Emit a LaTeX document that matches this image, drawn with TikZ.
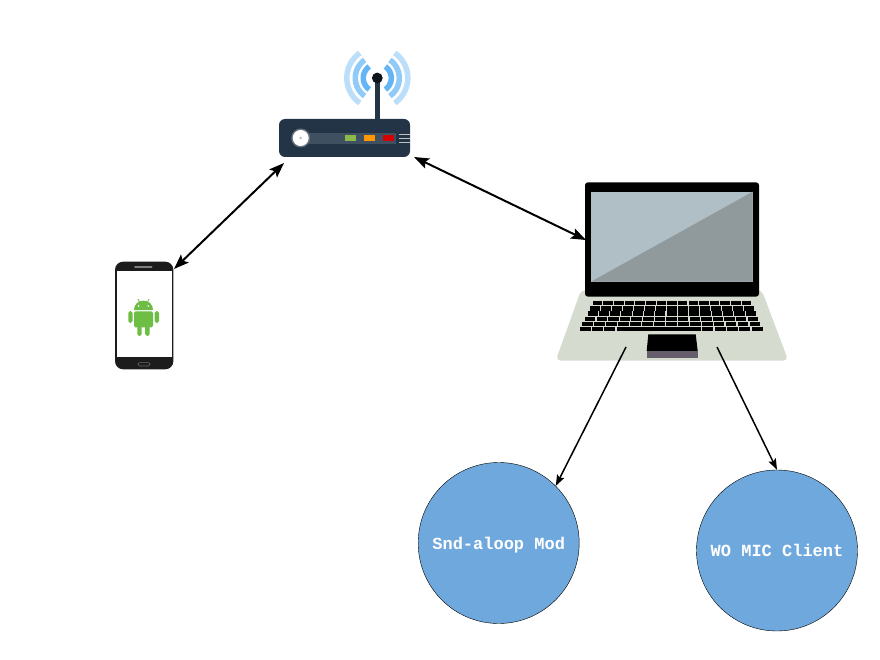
\documentclass[tikz,border=0pt]{standalone}
\usepackage{fontspec}
\usetikzlibrary{arrows.meta}
\setmonofont{Liberation Mono}
\definecolor{routerbody}{HTML}{243447}
\definecolor{routerslot}{HTML}{3F5160}
\definecolor{wifiin}{HTML}{64B5F6}
\definecolor{wifimid}{HTML}{90CAF9}
\definecolor{wifiout}{HTML}{BBDEFB}
\definecolor{droid}{HTML}{6EBD45}
\definecolor{ledgreen}{HTML}{8BB94A}
\definecolor{ledorange}{HTML}{FF9800}
\definecolor{ledred}{HTML}{D50000}
\definecolor{phonebody}{HTML}{1C1C1C}
\definecolor{screenlight}{HTML}{B0BEC5}
\definecolor{screendark}{HTML}{90999B}
\definecolor{deck}{HTML}{D5DCCF}
\definecolor{padstrip}{HTML}{665F6B}
\definecolor{modblue}{HTML}{6FA8DC}
\tikzset{
	module/.style={circle,draw=black,fill=modblue,minimum size=161pt,inner sep=0pt,text=white,
		text height=12pt,text depth=0pt,font=\fontsize{17}{20}\ttfamily\bfseries},
	link/.style={line width=2pt,{Stealth[length=15pt,width=11pt,inset=3pt]}-{Stealth[length=15pt,width=11pt,inset=3pt]}},
	feed/.style={line width=1.5pt,-{Stealth[length=11pt,width=8pt,inset=2pt]}},
}
\begin{document}
\begin{tikzpicture}[x=1pt,y=-1pt,line join=round]
	\useasboundingbox (0,0) rectangle (880,660);
	\path	(174,269) coordinate (P)
	(284,163) coordinate (R1)
	(414,157) coordinate (R2)
	(586,240) coordinate (L1)
	(626,347) coordinate (L2)
	(717,347) coordinate (L3)
	(377.3,78) coordinate (A);
	% router
	\foreach \r/\c in {30.5/wifiout,22/wifimid,14/wifiin} {
		\draw[\c,line width=5.5pt] plot[domain=-55:55,samples=20] ({377.3+\r*cos(\x)},{78+\r*sin(\x)});
		\draw[\c,line width=5.5pt] plot[domain=125:235,samples=20] ({377.3+\r*cos(\x)},{78+\r*sin(\x)});
	}
	\draw[routerbody,line width=4.5pt] (A)--(377.3,120);
	\fill[black!60!routerbody] (A) circle (5.4);
	\node[draw=none,fill=routerbody,rounded corners=6pt,minimum width=131pt,minimum height=38pt,inner sep=0pt] (router) at (344.5,138) {};
	\fill[routerslot] (308,133) rectangle (396,144);
	\fill[routerbody!70!white] (300.7,138) circle (9.5);
	\fill[white] (300.7,138) circle (8);
	\fill[black!25] (300.7,138) circle (1.5);
	\foreach \x/\c in {344.7/ledgreen,363.7/ledorange,382.7/ledred} \fill[\c] (\x,135.3) rectangle +(11,5.7);
	\foreach \y in {134.3,138.3,142.7} \draw[black!25,line width=1.5pt] (399,\y)--(410,\y);
	% phone
	\node[fill=phonebody,rounded corners=8pt,minimum width=58.3pt,minimum height=107.6pt,inner sep=0pt] (phone) at (144.2,315.5) {};
	\fill[white] (117.3,270.7) rectangle (171.7,357.3);
	\draw[black!50,line width=1.6pt,line cap=round] (135,266.7)--(151.7,266.7);
	\draw[black!60,line width=.7pt,rounded corners=1.5pt] (138,362.6) rectangle (150,366);
	\fill[droid] (134,310) .. controls (134,304) and (138.5,300.7) .. (143.5,300.7) .. controls (148.5,300.7) and (153,304) .. (153,310) -- cycle;
	\draw[droid,line width=.7pt] (138,299)--(139.5,302) (149,299)--(147.5,302);
	\fill[white] (138.6,306) circle (.9) (148.3,306) circle (.9);
	\fill[droid,rounded corners=1.5pt] (134,311.3) rectangle (153,327.3);
	\fill[droid,rounded corners=1.8pt] (128.3,311) rectangle (132.5,323) (154.7,311) rectangle (159,323)
		(137.3,323) rectangle (141.7,336) (145.2,323) rectangle (149.6,336);
	% laptop
	\fill[deck,rounded corners=5pt] (581,290) -- (761.7,290) -- (788.3,360.7) -- (555.7,360.7) -- cycle;
	\node[fill=black,rounded corners=3pt,minimum width=174pt,minimum height=114.4pt,inner sep=0pt] (laptop) at (672,239.5) {};
	\fill[screenlight] (591,191.7) rectangle (752.7,281.7);
	\fill[screendark] (591,281.7) -- (752.7,191.7) -- (752.7,281.7) -- cycle;
	\foreach \r in {0,...,5} {
		\foreach \k in {0,...,14} {
			\pgfmathsetmacro\yt{301+\r*5.2}
			\pgfmathsetmacro\yb{\yt+4.4}
			\pgfmathsetmacro\xa{592.3-\r*5.2*.508+(\k+.05)*(159.5+\r*5.2*.945)/15}
			\pgfmathsetmacro\xb{592.3-\r*5.2*.508+(\k+.95)*(159.5+\r*5.2*.945)/15}
			\fill (\xa,\yt) rectangle (\xb,\yb);
		}
	}
	\fill (628,327) rectangle (693,331.4);
	\fill (648.3,334.3) -- (695.7,334.3) -- (697.7,351) -- (646.7,351) -- cycle;
	\fill[padstrip] (646.7,351) rectangle (697.7,357.7);
	% modules
	\node[module] (snd) at (498.7,543) {Snd-aloop Mod};
	\node[module] (client) at (777,550.5) {WO MIC Client};
	% links
	\draw[link] (P)--(R1);
	\draw[link] (R2)--(L1);
	\draw[feed] (L2)--(snd.45);
	\draw[feed] (L3)--(client.north);
\end{tikzpicture}
\end{document}
